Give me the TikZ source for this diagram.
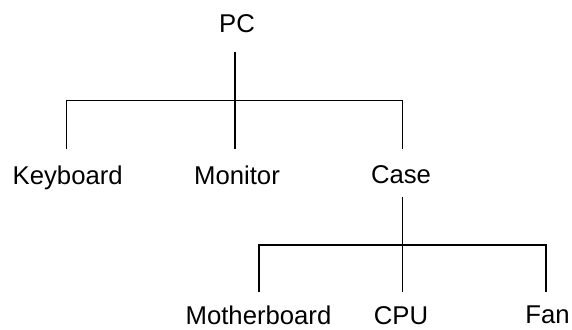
\documentclass[tikz,border=0pt]{standalone}
\usepackage{fontspec}
\setmainfont{Liberation Sans}
\begin{document}
\begin{tikzpicture}[x=1pt,y=-1pt,
  lbl/.style={inner sep=0pt,anchor=base,font=\fontsize{25.7}{30}\selectfont},
  lowlbl/.style={lbl,text depth=0pt},
  conn/.style={line width=1.6pt}]
\useasboundingbox (0,0) rectangle (572,329);
% labels
\node[lbl] (pc) at (237,33) {PC};
\node[lbl] (kb) at (67.7,184) {Keyboard};
\node[lbl] (mon) at (237,184) {Monitor};
\node[lbl] (case) at (401,183) {Case};
\node[lowlbl] (mb) at (258.5,324.5) {Motherboard};
\node[lowlbl] (cpu) at (401,324.5) {CPU};
\node[lowlbl] (fan) at (547.5,323.5) {Fan};
% junction points, level 1
\coordinate (pcTop) at (234.7,51.7);
\coordinate (hL) at (66.3,100.5);
\coordinate (hM) at (234.7,100.5);
\coordinate (hR) at (402.3,100.5);
\coordinate (kbTop) at (66.3,149.3);
\coordinate (monTop) at (234.7,149.3);
\coordinate (caseTop) at (402.3,149.3);
% level 2
\coordinate (caseBot) at (402.3,196.7);
\coordinate (gL) at (258.7,244.7);
\coordinate (gM) at (402.3,244.7);
\coordinate (gR) at (545.7,244.7);
\coordinate (mbTop) at (258.7,292.3);
\coordinate (cpuTop) at (402.3,292.3);
\coordinate (fanTop) at (545.7,292.3);
% connectors
\draw[conn] (pcTop) -- (monTop);
\draw[conn] (kbTop) -- (hL) -- (hR) -- (caseTop);
\draw[conn] (caseBot) -- (cpuTop);
\draw[conn] (mbTop) -- (gL) -- (gR) -- (fanTop);
\end{tikzpicture}
\end{document}
